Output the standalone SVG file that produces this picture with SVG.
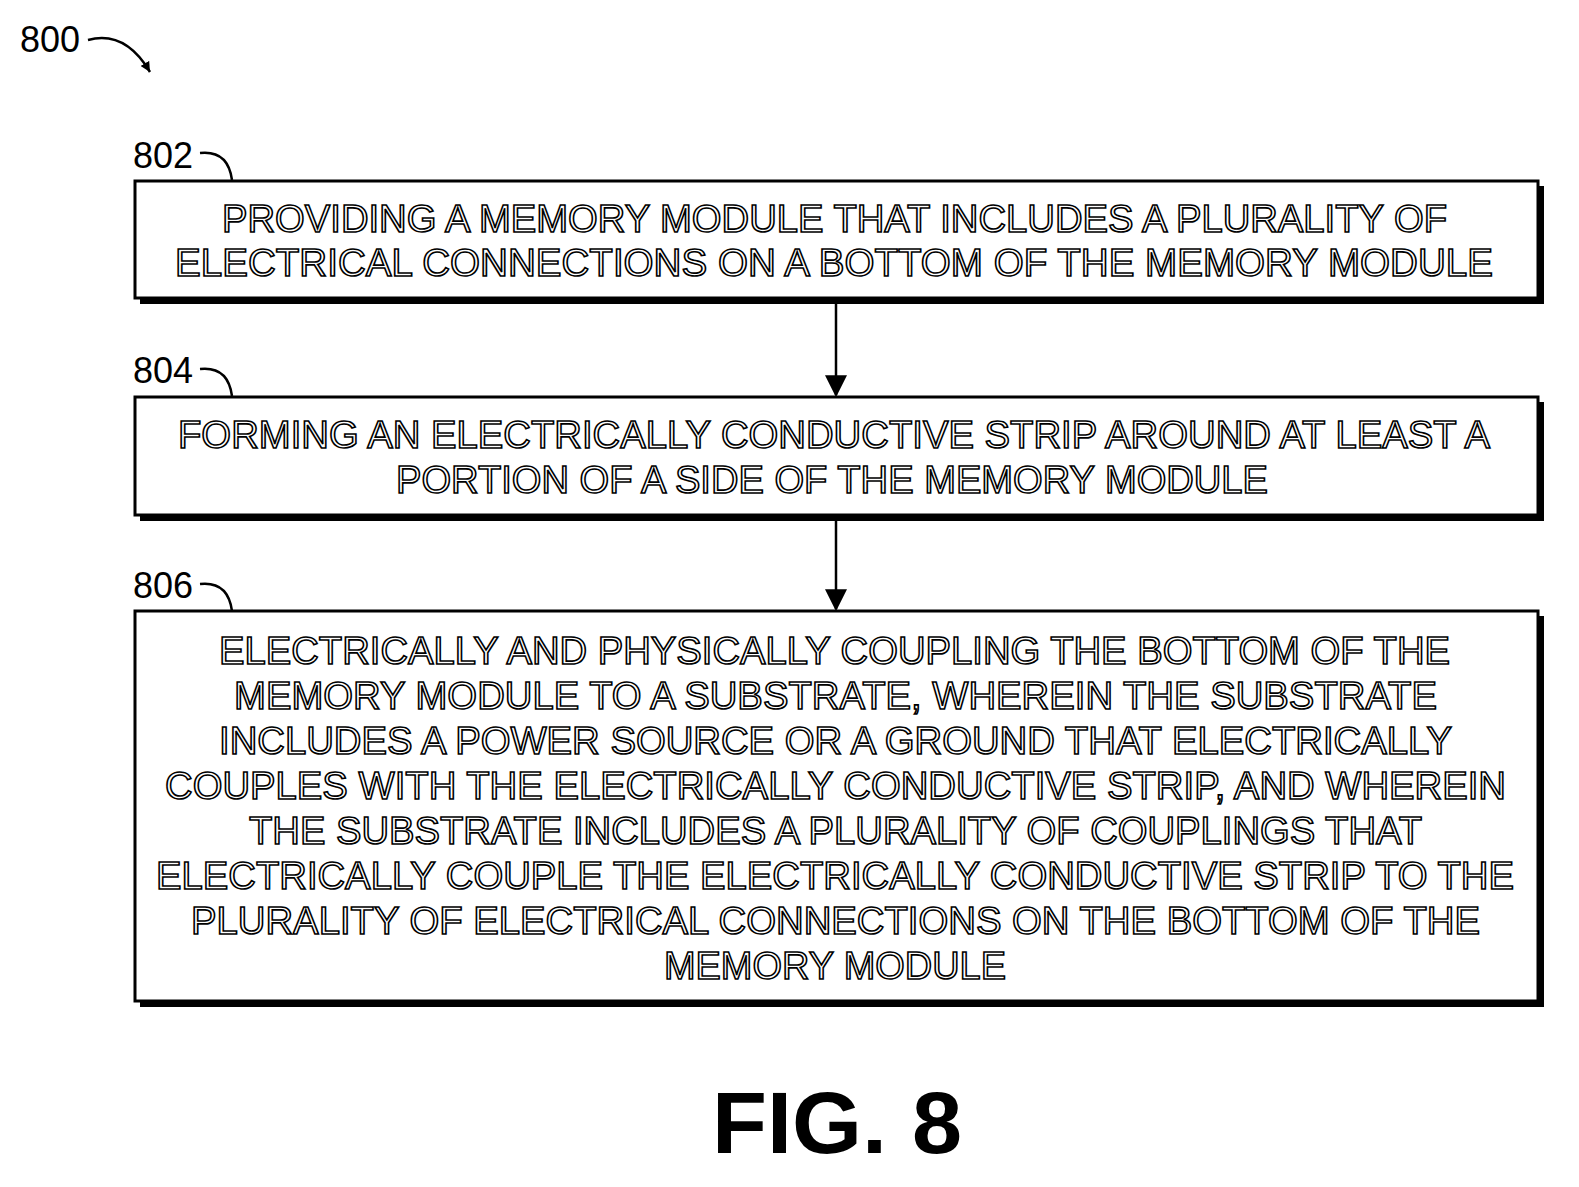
<svg xmlns="http://www.w3.org/2000/svg" width="1579" height="1187" viewBox="0 0 1579 1187">
<style>
.box{fill:#fff;stroke:#000;stroke-width:3}
.sh{fill:#000}
.t{font-family:"Liberation Sans",Arial,sans-serif;font-size:38px;fill:#fff;stroke:#000;stroke-width:1.6;text-anchor:start}
.lbl{font-family:"Liberation Sans",Arial,sans-serif;font-size:36px;fill:#000}
.ln{fill:none;stroke:#000;stroke-width:2.5}
</style>
<defs><marker id="ah" viewBox="0 0 10 10" refX="10" refY="5" markerWidth="10" markerHeight="10" markerUnits="userSpaceOnUse" orient="auto"><path d="M0,0 L10,5 L0,10 z" fill="#000"/></marker>
<marker id="ah2" viewBox="0 0 10 10" refX="9" refY="5" markerWidth="22" markerHeight="22" markerUnits="userSpaceOnUse" orient="auto"><path d="M0,0 L10,5 L0,10 z" fill="#000"/></marker></defs>
<g id="label800"><text class="lbl" x="20" y="52">800</text><path class="ln" d="M88,40 Q125,30 150,72" marker-end="url(#ah)"/></g>
<g id="connectors">
<line class="ln" x1="836" y1="299" x2="836" y2="395" marker-end="url(#ah2)"/>
<line class="ln" x1="836" y1="517" x2="836" y2="609" marker-end="url(#ah2)"/>
</g>
<g id="n802">
<text class="lbl" x="133" y="168">802</text><path class="ln" d="M200,153 Q228,150 232,180"/>
<rect class="sh" x="140" y="186" width="1404" height="118"/>
<rect class="box" x="135" y="181" width="1403" height="117"/>
<text class="t" x="222" y="232" textLength="1225" lengthAdjust="spacingAndGlyphs">PROVIDING A MEMORY MODULE THAT INCLUDES A PLURALITY OF</text>
<text class="t" x="175" y="276" textLength="1318" lengthAdjust="spacingAndGlyphs">ELECTRICAL CONNECTIONS ON A BOTTOM OF THE  MEMORY MODULE</text>
</g>
<g id="n804">
<text class="lbl" x="133" y="383">804</text><path class="ln" d="M200,369 Q228,366 232,396"/>
<rect class="sh" x="140" y="402" width="1404" height="119"/>
<rect class="box" x="135" y="397" width="1403" height="118"/>
<text class="t" x="178" y="448" textLength="1312" lengthAdjust="spacingAndGlyphs">FORMING AN ELECTRICALLY CONDUCTIVE STRIP AROUND AT LEAST A</text>
<text class="t" x="396" y="493" textLength="872" lengthAdjust="spacingAndGlyphs">PORTION OF A SIDE OF THE MEMORY MODULE</text>
</g>
<g id="n806">
<text class="lbl" x="133" y="598">806</text><path class="ln" d="M200,584 Q228,581 232,611"/>
<rect class="sh" x="140" y="616" width="1404" height="391"/>
<rect class="box" x="135" y="611" width="1403" height="390"/>
<text class="t" x="219" y="664" textLength="1231" lengthAdjust="spacingAndGlyphs">ELECTRICALLY AND PHYSICALLY COUPLING THE BOTTOM OF THE</text>
<text class="t" x="234" y="709" textLength="1203" lengthAdjust="spacingAndGlyphs">MEMORY MODULE TO A SUBSTRATE, WHEREIN THE SUBSTRATE</text>
<text class="t" x="219" y="754" textLength="1233" lengthAdjust="spacingAndGlyphs">INCLUDES A POWER SOURCE OR A GROUND THAT ELECTRICALLY</text>
<text class="t" x="165" y="799" textLength="1341" lengthAdjust="spacingAndGlyphs">COUPLES WITH THE ELECTRICALLY CONDUCTIVE STRIP, AND WHEREIN</text>
<text class="t" x="249" y="844" textLength="1173" lengthAdjust="spacingAndGlyphs">THE SUBSTRATE INCLUDES A PLURALITY OF COUPLINGS THAT</text>
<text class="t" x="156" y="889" textLength="1358" lengthAdjust="spacingAndGlyphs">ELECTRICALLY COUPLE THE ELECTRICALLY CONDUCTIVE STRIP TO THE</text>
<text class="t" x="191" y="934" textLength="1289" lengthAdjust="spacingAndGlyphs">PLURALITY OF ELECTRICAL CONNECTIONS ON THE BOTTOM OF THE</text>
<text class="t" x="664" y="979" textLength="342" lengthAdjust="spacingAndGlyphs">MEMORY MODULE</text>
</g>
<text x="837" y="1153" text-anchor="middle" font-family="Liberation Sans,Arial,sans-serif" font-weight="bold" font-size="88" textLength="250" lengthAdjust="spacingAndGlyphs">FIG. 8</text>
</svg>
